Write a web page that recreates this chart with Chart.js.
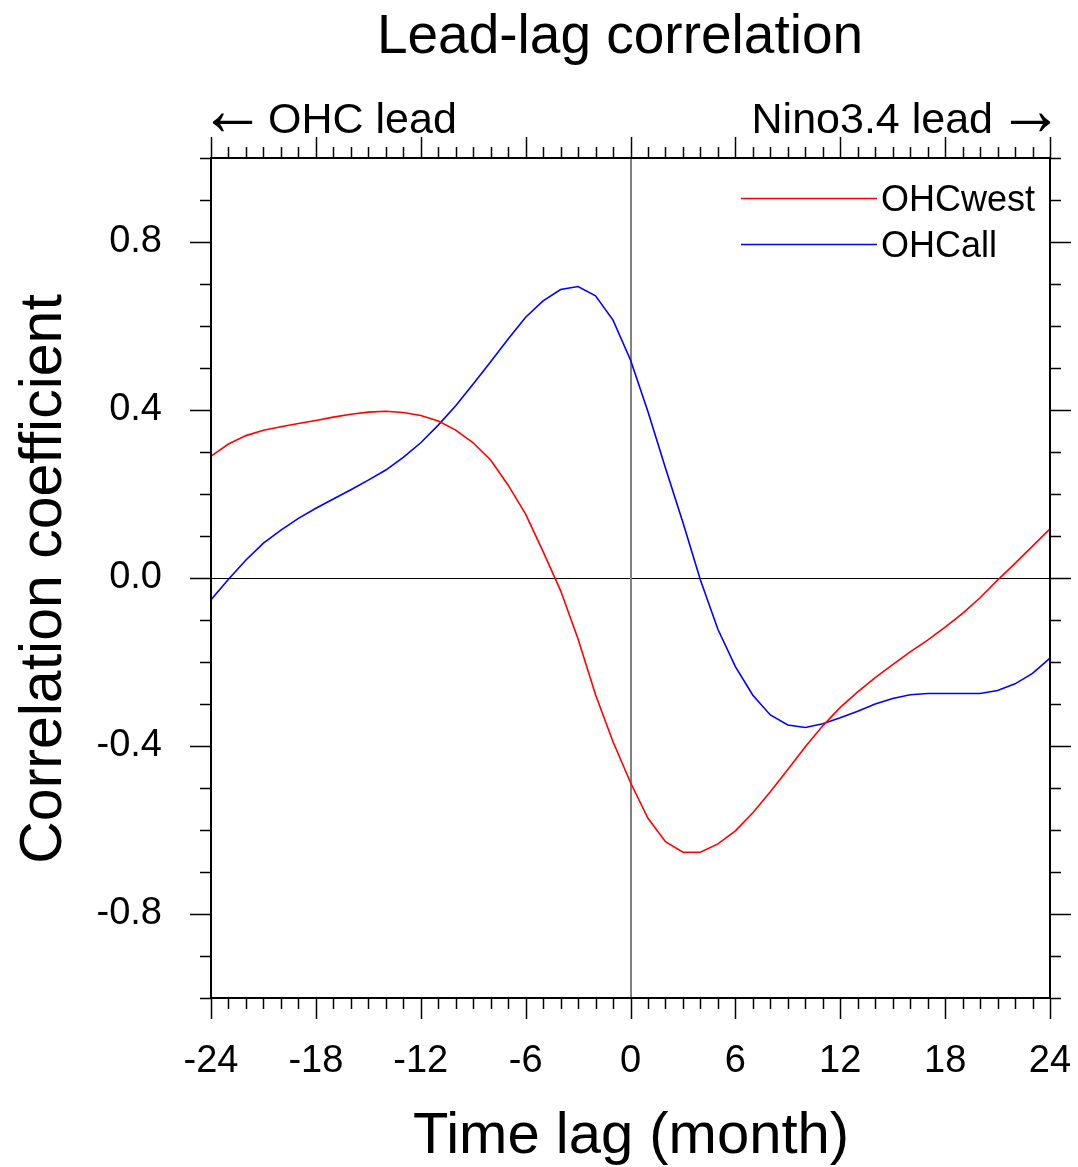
<!DOCTYPE html>
<html>
<head>
<meta charset="utf-8">
<script src="https://cdn.jsdelivr.net/npm/chart.js@4/dist/chart.umd.min.js"></script>
<style>
  html, body { margin: 0; padding: 0; background: #fff; }
  #leadLag { display: block; }
</style>
</head>
<body>
<canvas id="leadLag" width="1078" height="1167"></canvas>
<script>
// lag in months (negative: OHC leads, positive: Nino3.4 leads)
const lags = [-24, -23, -22, -21, -20, -19, -18, -17, -16, -15, -14, -13, -12,
    -11, -10, -9, -8, -7, -6, -5, -4, -3, -2, -1, 0, 1, 2, 3, 4, 5, 6, 7, 8, 9,
    10, 11, 12, 13, 14, 15, 16, 17, 18, 19, 20, 21, 22, 23, 24];

const ohcWest = [0.290, 0.319, 0.339, 0.352, 0.360, 0.368, 0.375, 0.383, 0.390,
    0.395, 0.397, 0.394, 0.387, 0.374, 0.352, 0.322, 0.281, 0.221, 0.152, 0.063,
    -0.030, -0.145, -0.278, -0.390, -0.487, -0.572, -0.628, -0.653, -0.653,
    -0.633, -0.602, -0.559, -0.509, -0.456, -0.402, -0.352, -0.308, -0.271,
    -0.237, -0.206, -0.176, -0.148, -0.117, -0.084, -0.047, -0.005, 0.035,
    0.076, 0.117];

const ohcAll = [-0.052, -0.003, 0.043, 0.083, 0.114, 0.142, 0.166, 0.188, 0.210,
    0.233, 0.257, 0.287, 0.322, 0.364, 0.410, 0.462, 0.515, 0.569, 0.621, 0.660,
    0.687, 0.694, 0.672, 0.614, 0.519, 0.396, 0.262, 0.132, -0.005, -0.122,
    -0.211, -0.279, -0.326, -0.350, -0.356, -0.347, -0.333, -0.317, -0.300,
    -0.287, -0.278, -0.275, -0.275, -0.275, -0.275, -0.268, -0.252, -0.227,
    -0.191];

const xTicks = [-24, -18, -12, -6, 0, 6, 12, 18, 24];
const yTicks = [-0.8, -0.4, 0.0, 0.4, 0.8];
const yMinorTicks = [-1.0, -0.9, -0.8, -0.7, -0.6, -0.5, -0.4, -0.3, -0.2, -0.1,
    0.0, 0.1, 0.2, 0.3, 0.4, 0.5, 0.6, 0.7, 0.8, 0.9, 1.0];

const FONT = "'Liberation Sans', Arial, Helvetica, sans-serif";

// thin arrow glyph, its ink stretched to width x height, centred vertically on cy
function drawArrow(ctx, glyph, left, cy, width, height) {
    ctx.save();
    ctx.font = `42px ${FONT}`;
    ctx.textAlign = 'left';
    ctx.textBaseline = 'alphabetic';
    const m = ctx.measureText(glyph);
    const inkW = m.actualBoundingBoxLeft + m.actualBoundingBoxRight;
    const inkH = m.actualBoundingBoxAscent + m.actualBoundingBoxDescent;
    const sx = width / inkW;
    const sy = height / inkH;
    ctx.translate(left, cy);
    ctx.scale(sx, sy);
    const mid = (m.actualBoundingBoxDescent - m.actualBoundingBoxAscent) / 2;
    ctx.fillText(glyph, m.actualBoundingBoxLeft, -mid);
    ctx.restore();
}

const framePlugin = {
    id: 'nclFrame',
    beforeDatasetsDraw(chart) {
        const { ctx, chartArea: a, scales: { x, y } } = chart;
        ctx.save();
        // zero correlation line
        const y0 = Math.round(y.getPixelForValue(0)) + 0.5;
        ctx.strokeStyle = '#000';
        ctx.lineWidth = 1;
        ctx.beginPath();
        ctx.moveTo(a.left, y0);
        ctx.lineTo(a.right, y0);
        ctx.stroke();
        // zero lag line
        const x0 = Math.round(x.getPixelForValue(0));
        ctx.strokeStyle = '#808080';
        ctx.lineWidth = 2;
        ctx.beginPath();
        ctx.moveTo(x0, a.top);
        ctx.lineTo(x0, a.bottom);
        ctx.stroke();
        ctx.restore();
    },
    afterDraw(chart) {
        const { ctx, chartArea: a, scales: { x, y } } = chart;
        ctx.save();

        // tick marks, outward on all four sides
        ctx.strokeStyle = '#000';
        ctx.lineWidth = 1.5;
        ctx.beginPath();
        lags.forEach((v) => {
            const px = Math.round(x.getPixelForValue(v)) + 0.5;
            const len = xTicks.includes(v) ? 21 : 11;
            ctx.moveTo(px, a.bottom);
            ctx.lineTo(px, a.bottom + len);
            ctx.moveTo(px, a.top);
            ctx.lineTo(px, a.top - len);
        });
        yMinorTicks.forEach((v) => {
            const py = Math.round(y.getPixelForValue(v)) + 0.5;
            const len = yTicks.some((t) => Math.abs(t - v) < 1e-6) ? 21 : 11;
            ctx.moveTo(a.left, py);
            ctx.lineTo(a.left - len, py);
            ctx.moveTo(a.right, py);
            ctx.lineTo(a.right + len, py);
        });
        ctx.stroke();

        // plot frame
        ctx.lineWidth = 2;
        ctx.strokeRect(a.left, a.top, a.right - a.left, a.bottom - a.top);

        // texts
        ctx.fillStyle = '#000';
        ctx.textBaseline = 'alphabetic';

        ctx.font = `55px ${FONT}`;
        ctx.textAlign = 'center';
        ctx.fillText('Lead-lag correlation', 620, 53);

        ctx.font = `43px ${FONT}`;
        ctx.textAlign = 'left';
        ctx.fillText('OHC lead', 268, 133);
        ctx.textAlign = 'right';
        ctx.fillText('Nino3.4 lead', 993, 133);
        drawArrow(ctx, '\u2190', a.left + 1, 122, 41, 18);
        drawArrow(ctx, '\u2192', 1010, 122, 41, 18);

        ctx.font = `58px ${FONT}`;
        ctx.textAlign = 'center';
        ctx.fillText('Time lag (month)', 631, 1153);

        ctx.save();
        ctx.translate(61, 579);
        ctx.rotate(-Math.PI / 2);
        ctx.font = `59px ${FONT}`;
        ctx.fillText('Correlation coefficient', 0, 0);
        ctx.restore();

        // legend, top right inside the frame
        ctx.font = `36px ${FONT}`;
        ctx.textAlign = 'left';
        chart.data.datasets.forEach((ds, i) => {
            const ly = 198 + i * 46;
            ctx.strokeStyle = ds.borderColor;
            ctx.lineWidth = 1.6;
            ctx.beginPath();
            ctx.moveTo(741, ly + 0.5);
            ctx.lineTo(877, ly + 0.5);
            ctx.stroke();
            ctx.fillText(ds.label, 881, ly + 13);
        });

        ctx.restore();
    },
};

const toPoints = (vals) => lags.map((m, i) => ({ x: m, y: vals[i] }));

const chart = new Chart(document.getElementById('leadLag'), {
    type: 'line',
    data: {
        datasets: [
            {
                label: 'OHCwest',
                data: toPoints(ohcWest),
                borderColor: '#ff0000',
                borderWidth: 1.6,
                pointRadius: 0,
                tension: 0,
            },
            {
                label: 'OHCall',
                data: toPoints(ohcAll),
                borderColor: '#0000ff',
                borderWidth: 1.6,
                pointRadius: 0,
                tension: 0,
            },
        ],
    },
    options: {
        responsive: false,
        animation: false,
        devicePixelRatio: 1,
        layout: { padding: { top: 158, right: 28, left: 0, bottom: 0 } },
        plugins: {
            legend: { display: false },
            tooltip: { enabled: false },
            title: { display: false },
        },
        scales: {
            x: {
                type: 'linear',
                min: -24,
                max: 24,
                grid: { display: false, drawTicks: false },
                border: { display: false },
                afterBuildTicks: (scale) => {
                    scale.ticks = xTicks.map((v) => ({ value: v }));
                },
                afterFit: (scale) => {
                    scale.height = 169;
                    scale.paddingLeft = 0;
                    scale.paddingRight = 0;
                },
                ticks: {
                    autoSkip: false,
                    maxRotation: 0,
                    padding: 41,
                    color: '#000',
                    font: { family: FONT, size: 38 },
                    callback: (v) => String(v),
                },
            },
            y: {
                type: 'linear',
                min: -1,
                max: 1,
                grid: { display: false, drawTicks: false },
                border: { display: false },
                afterBuildTicks: (scale) => {
                    scale.ticks = yTicks.map((v) => ({ value: v }));
                },
                afterFit: (scale) => {
                    scale.width = 211;
                    scale.paddingTop = 0;
                    scale.paddingBottom = 0;
                },
                ticks: {
                    autoSkip: false,
                    padding: 49,
                    color: '#000',
                    font: { family: FONT, size: 38 },
                    callback: (v) => Number(v).toFixed(1),
                },
            },
        },
    },
    plugins: [framePlugin],
});
</script>
</body>
</html>
